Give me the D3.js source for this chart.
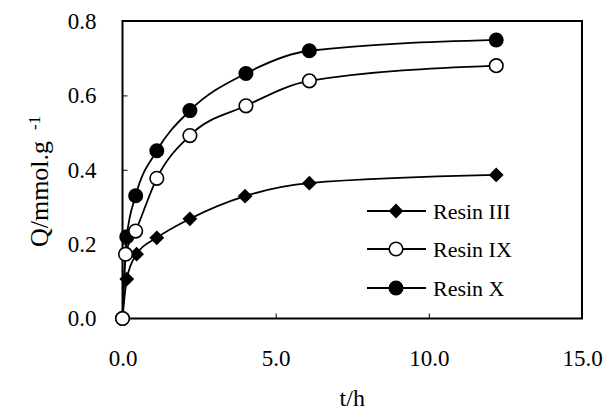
<!DOCTYPE html>
<html><head><meta charset="utf-8">
<script src="https://cdn.jsdelivr.net/npm/d3@7"></script>
<style>body{margin:0;background:#fff}svg text{font-family:"Liberation Serif","DejaVu Serif",serif !important;fill:#000}</style>
</head><body><svg id="c" width="612" height="412"></svg>
<script>
const times3 = [0, 0.14, 0.46, 1.12, 2.2, 4.0, 6.1, 12.2];
const resinIII = [0, 0.106, 0.173, 0.217, 0.268, 0.329, 0.364, 0.386];
const times9 = [0, 0.1, 0.43, 1.12, 2.2, 4.03, 6.1, 12.2];
const resinIX = [0, 0.173, 0.235, 0.377, 0.492, 0.572, 0.639, 0.68];
const times10 = [0, 0.14, 0.43, 1.12, 2.2, 4.03, 6.1, 12.2];
const resinX = [0, 0.22, 0.33, 0.451, 0.559, 0.659, 0.72, 0.749];
const xTicks = [0, 5, 10, 15];
const yTicks = [0, 0.2, 0.4, 0.6, 0.8];
const seriesNames = ["Resin III", "Resin IX", "Resin X"];

const FONT = "Liberation Serif, DejaVu Serif, serif";
const svg = d3.select("#c");
const x = d3.scaleLinear().domain([0, 15]).range([122.5, 582]);
const y = d3.scaleLinear().domain([0, 0.8]).range([318.5, 21]);

const gx = svg.append("g").attr("transform", `translate(0,${y(0)})`)
  .call(d3.axisBottom(x).tickValues(xTicks).tickSizeInner(-5).tickSizeOuter(0).tickPadding(31).tickFormat(d3.format(".1f")));
gx.attr("font-family", FONT);
gx.select(".domain").remove();
gx.selectAll("line").attr("stroke", "#000");
gx.selectAll("text").attr("font-size", 23).attr("font-family", FONT);

const gy = svg.append("g").attr("transform", `translate(${x(0)},0)`)
  .call(d3.axisLeft(y).tickValues(yTicks).tickSizeInner(-5).tickSizeOuter(0).tickPadding(26).tickFormat(d3.format(".1f")));
gy.attr("font-family", FONT);
gy.select(".domain").remove();
gy.selectAll("line").attr("stroke", "#000");
gy.selectAll("text").attr("font-size", 23).attr("font-family", FONT);

svg.append("rect").attr("x", x(0)).attr("y", y(0.8)).attr("width", x(15) - x(0)).attr("height", y(0) - y(0.8))
  .attr("fill", "none").attr("stroke", "#000").attr("stroke-width", 2);

const line = d3.line().x(d => x(d[0])).y(d => y(d[1])).curve(d3.curveMonotoneX);
const series = [
  {name: seriesNames[0], t: times3, v: resinIII, shape: "diamond"},
  {name: seriesNames[1], t: times9, v: resinIX, shape: "open"},
  {name: seriesNames[2], t: times10, v: resinX, shape: "filled"}
];

function marker(g, shape, cx, cy) {
  if (shape === "diamond") {
    g.append("path").attr("d", d3.symbol(d3.symbolSquare, 110)())
      .attr("transform", `translate(${cx},${cy}) rotate(45)`).attr("fill", "#000");
  } else if (shape === "open") {
    g.append("circle").attr("cx", cx).attr("cy", cy).attr("r", 6.8).attr("fill", "#fff").attr("stroke", "#000").attr("stroke-width", 1.6);
  } else {
    g.append("circle").attr("cx", cx).attr("cy", cy).attr("r", 7.5).attr("fill", "#000");
  }
}

series.forEach(s => {
  const pts = s.t.map((t, i) => [t, s.v[i]]);
  svg.append("path").datum(pts).attr("d", line).attr("fill", "none").attr("stroke", "#000").attr("stroke-width", 1.8);
});
[series[0], series[2], series[1]].forEach(s => {
  const g = svg.append("g");
  s.t.forEach((t, i) => marker(g, s.shape, x(t), y(s.v[i])));
});

const legY = [211, 249, 288];
series.forEach((s, i) => {
  const g = svg.append("g");
  g.append("line").attr("x1", 367).attr("x2", 426).attr("y1", legY[i]).attr("y2", legY[i]).attr("stroke", "#000").attr("stroke-width", 1.8);
  marker(g, s.shape, 396, legY[i]);
  g.append("text").attr("x", 433).attr("y", legY[i] + 8).attr("font-size", 22).attr("font-family", FONT).text(s.name);
});

svg.append("text").attr("x", x(7.5)).attr("y", 406).attr("text-anchor", "middle").attr("font-size", 24).attr("font-family", FONT).text("t/h");
const yl = svg.append("text").attr("transform", `translate(48,194) rotate(-90)`).attr("text-anchor", "middle").attr("font-size", 26).attr("font-family", FONT);
yl.append("tspan").text("Q/mmol.g");
svg.append("text").attr("transform", `translate(40,${194 - 64}) rotate(-90)`).attr("text-anchor", "start").attr("font-size", 17).attr("font-family", FONT).text("-1");
</script></body></html>
